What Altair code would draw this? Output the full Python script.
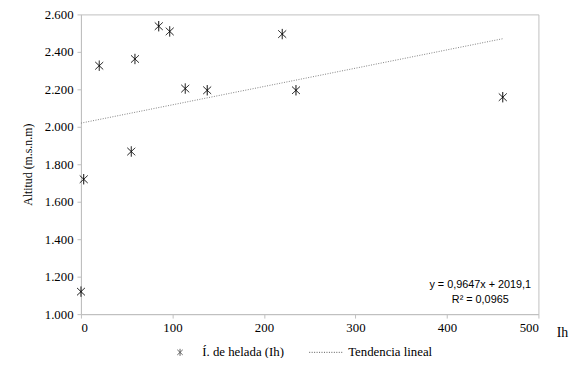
import altair as alt
import pandas as pd

# data
ih = [0, 3, 20, 55, 59, 85, 97, 114, 138, 220, 235, 461]
altitud = [1120, 1720, 2326, 1868, 2362, 2537, 2509, 2204, 2195, 2495, 2195, 2158]
series = ["Í. de helada (Ih)", "Tendencia lineal"]
eq_lines = ["y = 0,9647x + 2019,1", "R² = 0,0965"]
x_ticks = [0, 100, 200, 300, 400, 500]
y_ticks = [1000, 1200, 1400, 1600, 1800, 2000, 2200, 2400, 2600]

df = pd.DataFrame({"ih": ih, "alt": altitud, "serie": series[0]})

STAR = "M0,-0.21L0,0.21M-0.16,-0.15L0.16,0.15M-0.16,0.15L0.16,-0.15"
FONT = "Liberation Serif"

shape_scale = alt.Scale(domain=series, range=[STAR, "stroke"])
dash_scale = alt.Scale(domain=series, range=[[1, 0], [1, 1.5]])

legend = alt.Legend(
    title=None, orient="none", direction="horizontal",
    legendX=83, legendY=325,
    labelFont=FONT, labelFontSize=13, labelColor="black",
    labelFontWeight="normal",
    symbolSize=1156, symbolStrokeWidth=1, symbolStrokeColor="#555555",
    symbolFillColor="transparent", columnPadding=22, labelOffset=5,
)

x_enc = alt.X("ih:Q", scale=alt.Scale(domain=[0, 500], nice=False),
              axis=alt.Axis(values=x_ticks, grid=False,
                            title="Ih", titleAnchor="end", titleAngle=0,
                            titleAlign="left", titleBaseline="middle",
                            titleX=482, titleY=19))
y_enc = alt.Y("alt:Q", scale=alt.Scale(domain=[1000, 2600], nice=False),
              axis=alt.Axis(values=y_ticks, grid=False,
                            title="Altitud (m.s.n.m)",
                            labelExpr="replace(format(datum.value, ',.0f'), ',', '.')",
                            titlePadding=10))

points = alt.Chart(df).mark_point(filled=False, size=2500, strokeWidth=1,
                                  color="black", opacity=1).encode(
    x=x_enc, y=y_enc,
    shape=alt.Shape("serie:N", scale=shape_scale, legend=legend),
    strokeDash=alt.StrokeDash("serie:N", scale=dash_scale, legend=legend),
)

trend = alt.Chart(df).transform_regression(
    "ih", "alt", method="linear"
).transform_calculate(serie="'" + series[1] + "'").mark_line(
    color="#7f7f7f", strokeWidth=1
).encode(
    x=x_enc, y=y_enc,
    strokeDash=alt.StrokeDash("serie:N", scale=dash_scale, legend=legend),
)

eq_df = pd.DataFrame({"t": ["\n".join(eq_lines)]})
eq = alt.Chart(eq_df).mark_text(
    font="Liberation Sans", fontSize=11, color="black", align="center",
    baseline="middle", lineBreak="\n", lineHeight=15
).encode(
    text="t:N",
    x=alt.value(405),
    y=alt.value(275),
)

chart = alt.layer(points, trend, eq).properties(
    width=464, height=304,
    background="white",
    autosize=alt.AutoSizeParams(type="none"),
    padding={"left": 74, "top": 4, "right": 31, "bottom": 42},
).configure_view(stroke="#bfbfbf", strokeWidth=1).configure_axis(
    labelFont=FONT, labelFontSize=13, labelColor="black", labelOverlap=False,
    titleFont=FONT, titleFontSize=14, titleFontWeight="normal",
    titleColor="black", domainColor="#bfbfbf", tickColor="#bfbfbf",
    tickSize=4, labelPadding=4,
).configure_axisY(titleFontSize=12)

chart.save("out.html", embed_options={"renderer": "svg", "actions": False})
